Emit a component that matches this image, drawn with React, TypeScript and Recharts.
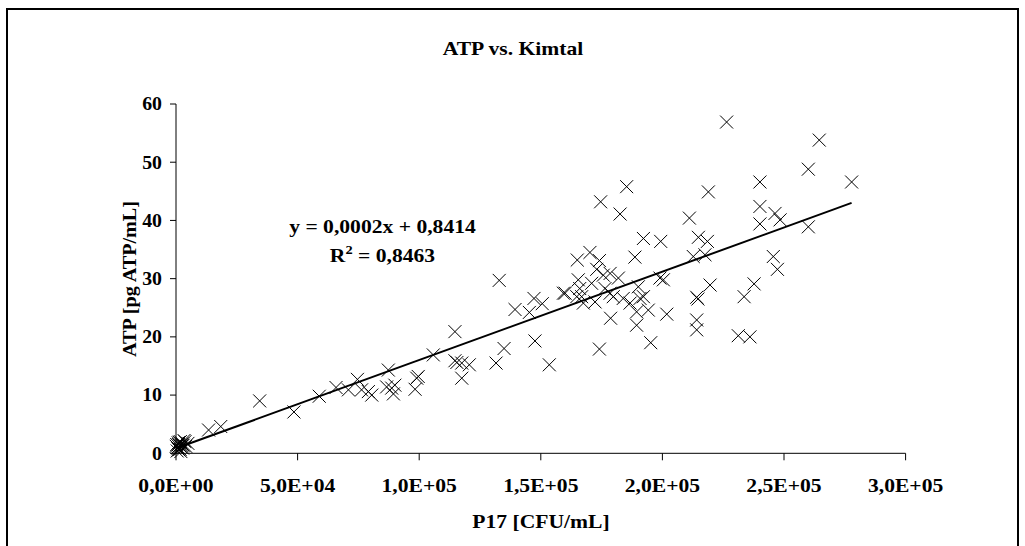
import React from 'react';
import { ScatterChart, Scatter, XAxis, YAxis, ReferenceLine } from 'recharts';

const P17: number[] = [
  300, 600, 900, 1200, 1500, 1800, 2100, 2400, 2700, 3000, 3300, 4000, 4900, 3700, 500, 2000,
  100, 800, 1000, 1400, 1700, 2500,
  13400, 18400, 34400, 48500, 58900, 65800, 70900, 74600, 76300, 79100, 80500, 87300, 86600, 88700,
  89400, 90000, 99000, 99600, 98300, 105800,
  114700, 114700, 115500, 117500, 120600, 117500,
  131600, 132900, 134900, 139400, 145300, 147200, 150600, 147600, 153500, 159300,
  160000, 164800, 165000, 165400, 166000, 166800, 167500, 170200, 170900, 172300, 173000, 174100,
  174100, 174600, 175700, 176400, 178500, 178500, 178700, 179800, 181900, 182600, 183900, 185300,
  186700, 188700, 189400, 189400, 190100, 190800, 192200, 192200, 194200, 195200, 199000, 199300,
  200400, 201800,
  211100, 212700, 214100, 214600, 214100, 214100, 214800, 217500, 218500, 218900, 219600, 226400,
  231200, 233600, 236000, 237700, 240100, 240100, 240100, 246300, 248400, 245600, 247300, 260000,
  260000, 264500, 277800,
];
const ATP: number[] = [
  1.5, 1.0, 1.8, 0.6, 1.3, 2.0, 1.1, 1.6, 0.9, 1.4, 2.2, 1.2, 1.7, 2.0, 0.4, 0.3,
  1.2, 0.8, 1.5, 1.9, 0.7, 1.3,
  4.0, 4.6, 9.0, 7.1, 9.8, 11.3, 10.9, 12.7, 10.9, 10.6, 10.0, 14.3, 11.4, 11.2,
  10.2, 11.7, 12.9, 13.2, 11.0, 16.9,
  20.9, 15.9, 15.6, 15.5, 15.2, 12.9,
  15.5, 29.7, 18.0, 24.7, 24.2, 26.6, 25.7, 19.3, 15.2, 27.5,
  27.5, 26.9, 33.2, 29.8, 28.3, 26.9, 25.8, 34.5, 29.2, 26.0, 31.6, 33.1,
  17.9, 43.2, 30.6, 28.3, 30.9, 27.5, 23.2, 26.9, 30.1, 41.1, 26.6, 45.8,
  25.8, 33.7, 24.3, 22.0, 28.6, 26.6, 36.9, 26.9, 24.6, 19.0, 30.1, 36.4,
  29.8, 23.9,
  40.4, 33.8, 26.8, 26.5, 22.9, 21.2, 37.1, 34.1, 36.4, 44.9, 28.9, 56.9,
  20.2, 26.9, 20.0, 29.1, 39.4, 46.6, 42.4, 41.2, 40.1, 33.8, 31.6, 48.8,
  38.9, 53.8, 46.6,
];

const X_TICKS: number[] = [0, 50000, 100000, 150000, 200000, 250000, 300000];
const X_TICK_LABELS: string[] = ['0,0E+00', '5,0E+04', '1,0E+05', '1,5E+05', '2,0E+05', '2,5E+05', '3,0E+05'];
const Y_TICKS: number[] = [0, 10, 20, 30, 40, 50, 60];

const TITLE = 'ATP vs. Kimtal';
const X_LABEL = 'P17 [CFU/mL]';
const Y_LABEL = 'ATP [pg ATP/mL]';
const EQ_LINE = 'y = 0,0002x + 0,8414';
const R2_VALUE = '0,8463';
const TREND_INTERCEPT = 0.8414;
const TREND_SLOPE = 0.0001518;

const data = P17.map((x, i) => ({ x, y: ATP[i] }));
const xMin = Math.min(...P17);
const xMax = Math.max(...P17);

const FONT = '"Liberation Serif", "Times New Roman", serif';
const FS = 18;
const SX = 1.2;

const XMark = (props: any) => {
  const { cx, cy } = props;
  const h = 6.5;
  return (
    <path
      d={`M${cx - h},${cy - h}L${cx + h},${cy + h}M${cx + h},${cy - h}L${cx - h},${cy + h}`}
      stroke="#000"
      strokeWidth={1}
      fill="none"
    />
  );
};

const XTick = (props: any) => {
  const { x, y, payload } = props;
  const i = X_TICKS.indexOf(payload.value);
  const label = i >= 0 ? X_TICK_LABELS[i] : String(payload.value);
  return (
    <g transform={`translate(${x},${y}) scale(${SX},1)`}>
      <text x={0} y={0} dy="0.71em" textAnchor="middle" fontFamily={FONT} fontWeight="bold" fontSize={FS} fill="#000">
        {label}
      </text>
    </g>
  );
};

const YTick = (props: any) => {
  const { x, y, payload } = props;
  return (
    <g transform={`translate(${x},${y}) scale(1.1,1)`}>
      <text x={0} y={0} dy="0.355em" textAnchor="end" fontFamily={FONT} fontWeight="bold" fontSize={FS} fill="#000">
        {String(payload.value)}
      </text>
    </g>
  );
};

const StretchText = ({ x, y, children, rotate = 0, anchor = 'middle', scale = SX }: any) => (
  <g transform={`translate(${x},${y}) rotate(${rotate}) scale(${scale},1)`}>
    <text x={0} y={0} textAnchor={anchor} fontFamily={FONT} fontWeight="bold" fontSize={FS} fill="#000">
      {children}
    </text>
  </g>
);

export default function App() {
  return (
    <div style={{ position: 'absolute', left: 0, top: 0, width: 1025, height: 546, background: '#fff', overflow: 'hidden' }}>
      <div
        style={{
          position: 'absolute', left: 6, top: 8, width: 1009, height: 600,
          borderTop: '2px solid #000', borderLeft: '2px solid #000', borderRight: '2px solid #000',
        }}
      />
      <ScatterChart
        width={1025}
        height={546}
        margin={{ top: 104, right: 119.4, bottom: 52.7, left: 116 }}
        style={{ position: 'absolute', left: 0, top: 0 }}
      >
        <XAxis
          type="number"
          dataKey="x"
          domain={[0, 300000]}
          ticks={X_TICKS}
          height={40}
          tickSize={7}
          tickMargin={19}
          axisLine={{ stroke: '#000', strokeWidth: 1 }}
          tickLine={{ stroke: '#000', strokeWidth: 1 }}
          tick={<XTick />}
          interval={0}
        />
        <YAxis
          type="number"
          dataKey="y"
          domain={[0, 60]}
          ticks={Y_TICKS}
          width={60}
          tickSize={6}
          tickMargin={8}
          axisLine={{ stroke: '#000', strokeWidth: 1 }}
          tickLine={{ stroke: '#000', strokeWidth: 1 }}
          tick={<YTick />}
          interval={0}
        />
        <Scatter data={data} shape={XMark} isAnimationActive={false} />
        <ReferenceLine
          segment={[
            { x: xMin, y: TREND_INTERCEPT + TREND_SLOPE * xMin },
            { x: xMax, y: TREND_INTERCEPT + TREND_SLOPE * xMax },
          ]}
          stroke="#000"
          strokeWidth={2}
        />
      </ScatterChart>
      <svg width={1025} height={546} style={{ position: 'absolute', left: 0, top: 0, pointerEvents: 'none' }}>
        <StretchText x={513} y={55}>{TITLE}</StretchText>
        <StretchText x={541} y={528}>{X_LABEL}</StretchText>
        <StretchText x={136} y={279} rotate={-90} scale={1.12}>{Y_LABEL}</StretchText>
        <StretchText x={382.5} y={233}>{EQ_LINE}</StretchText>
        <g transform="translate(382.5,262) scale(1.2,1)">
          <text x={0} y={0} textAnchor="middle" fontFamily={FONT} fontWeight="bold" fontSize={FS} fill="#000">
            R<tspan fontSize={12} dy={-8}>2</tspan><tspan dy={8}>{' = ' + R2_VALUE}</tspan>
          </text>
        </g>
      </svg>
    </div>
  );
}
